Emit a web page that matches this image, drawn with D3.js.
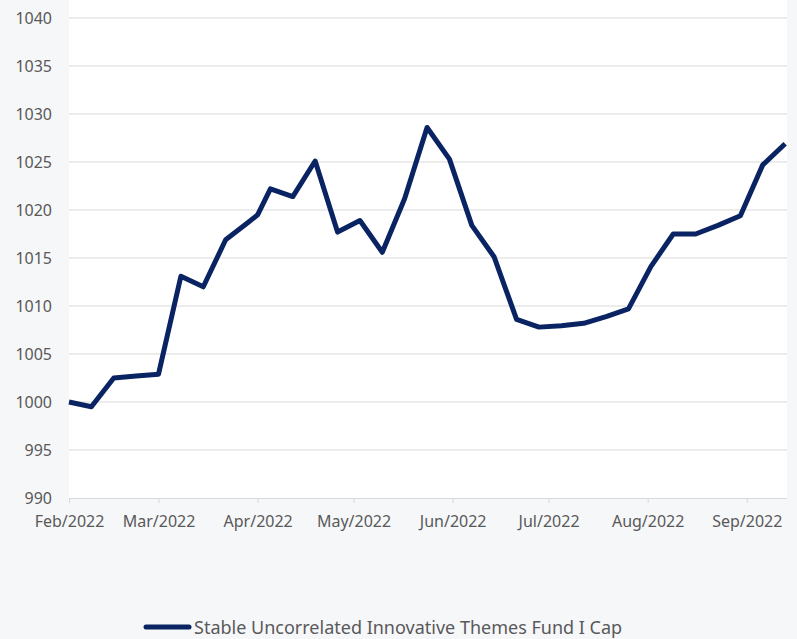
<!DOCTYPE html>
<html><head><meta charset="utf-8">
<script src="https://cdn.jsdelivr.net/npm/d3@7"></script>
<style>
html,body{margin:0;padding:0;background:#f6f7f9;}
svg{display:block;}
text{font-family:"Noto Sans",sans-serif;fill:#595959;}
</style></head>
<body>
<svg id="c" width="797" height="639"></svg>
<script>
const dates = ["2022-02-01","2022-02-08","2022-02-15","2022-02-22","2022-03-01","2022-03-08","2022-03-15","2022-03-22","2022-03-29","2022-04-01","2022-04-05","2022-04-12","2022-04-19","2022-04-26","2022-05-03","2022-05-10","2022-05-17","2022-05-24","2022-05-31","2022-06-07","2022-06-14","2022-06-21","2022-06-28","2022-07-05","2022-07-12","2022-07-19","2022-07-26","2022-08-02","2022-08-09","2022-08-16","2022-08-23","2022-08-30","2022-09-06","2022-09-13"];
const values = [1000.0,999.5,1002.5,1002.7,1002.9,1013.1,1012.0,1016.9,1018.7,1019.5,1022.2,1021.4,1025.1,1017.7,1018.9,1015.6,1021.2,1028.6,1025.3,1018.4,1015.1,1008.6,1007.8,1007.95,1008.2,1008.9,1009.7,1014.1,1017.5,1017.5,1018.4,1019.4,1024.7,1026.9];
const yTicks = [990,995,1000,1005,1010,1015,1020,1025,1030,1035,1040];
const xTickLabels = ["Feb/2022","Mar/2022","Apr/2022","May/2022","Jun/2022","Jul/2022","Aug/2022","Sep/2022"];
const seriesName = "Stable Uncorrelated Innovative Themes Fund I Cap";

const parse = d3.timeParse("%Y-%m-%d");
const data = dates.map((d,i)=>({date:parse(d), value:values[i]}));
const xTickDates = xTickLabels.map(s=>d3.timeParse("%b/%Y")(s));

const svg = d3.select("#c");
const L=69, R=787, T=18, B=498;
const x = d3.scaleTime().domain([parse("2022-02-01"), new Date(2022,8,13,14)]).range([L,R]);
const y = d3.scaleLinear().domain([990,1040]).range([B,T]);

svg.append("rect").attr("x",L).attr("y",0).attr("width",R-L).attr("height",B).attr("fill","#ffffff");

// gridlines
svg.append("g").selectAll("line").data(yTicks.filter(v=>v>990)).join("line")
  .attr("x1",L).attr("x2",R).attr("y1",d=>y(d)).attr("y2",d=>y(d))
  .attr("stroke","#d9d9d9").attr("stroke-width",1);

// y axis labels
const yAxis = d3.axisLeft(y).tickValues(yTicks).tickSize(0).tickPadding(17).tickFormat(d3.format("d"));
const gy = svg.append("g").attr("transform",`translate(${L},0)`).call(yAxis);
gy.select(".domain").remove();
gy.selectAll("text").attr("font-size","16px").attr("fill","#595959").attr("font-family","'Noto Sans',sans-serif");

// x axis
const xAxis = d3.axisBottom(x).tickValues(xTickDates).tickSize(5).tickPadding(13).tickFormat(d3.timeFormat("%b/%Y"));
const gx = svg.append("g").attr("transform",`translate(0,${B})`).call(xAxis);
gx.select(".domain").attr("stroke","#d9d9d9").attr("d",`M${L},0.5H${R}`);
gx.selectAll(".tick line").attr("stroke","#d9d9d9");
gx.selectAll("text").attr("font-size","16px").attr("fill","#595959").attr("font-family","'Noto Sans',sans-serif");

// line
const line = d3.line().x(d=>x(d.date)).y(d=>y(d.value));
svg.append("path").datum(data).attr("d",line)
  .attr("fill","none").attr("stroke","#0a2463").attr("stroke-width",5)
  .attr("stroke-linejoin","round").attr("stroke-linecap","butt");

// legend
const lg = svg.append("g");
lg.append("line").attr("x1",146).attr("x2",189).attr("y1",627).attr("y2",627)
  .attr("stroke","#0a2463").attr("stroke-width",5).attr("stroke-linecap","round");
lg.append("text").attr("x",194).attr("y",634).attr("font-size","18px").attr("fill","#595959").text(seriesName);
</script>
</body></html>
